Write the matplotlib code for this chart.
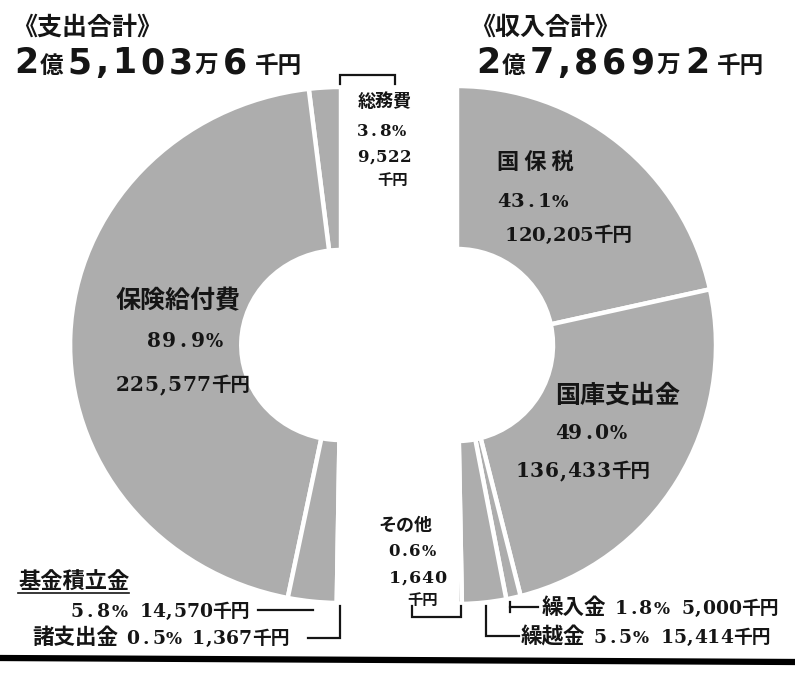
import matplotlib
matplotlib.use('Agg')
import matplotlib.pyplot as plt
from matplotlib.transforms import Affine2D

W, H = 795, 675

# 支出 (left half, counter-clockwise from the top)
exp_labels = ['総務費', '保険給付費', '基金積立金', '諸支出金']
exp_pct    = [3.8, 89.9, 5.8, 0.5]
exp_amt    = [9522, 225577, 14570, 1367]

# 収入 (right half, clockwise from the top)
inc_labels = ['国保税', '国庫支出金', '繰入金', '繰越金', 'その他']
inc_pct    = [43.1, 49.0, 1.8, 5.5, 0.6]
inc_amt    = [120205, 136433, 5000, 15414, 1640]

GRAY  = '#adadad'
INK   = '#151515'
SERIF = ['DejaVu Serif', 'Noto Sans CJK JP']
KANJI = ['Noto Sans CJK JP']
GOTH  = ['DejaVu Sans', 'Noto Sans CJK JP']


def py(y):
    return H - y


fig = plt.figure(figsize=(W / 100, H / 100), dpi=100)
fig.patch.set_facecolor('white')
ax = fig.add_axes([0, 0, 1, 1])
renderer = fig.canvas.get_renderer()

wp = dict(width=163, edgecolor='white', linewidth=3.2)
lc = (341, py(345))
left, _ = ax.pie([v / 200 for v in exp_pct], radius=258, center=lc,
                 startangle=90, counterclock=True, normalize=False,
                 colors=[GRAY] * len(exp_pct), wedgeprops=wp)
ax.pie([v / 200 for v in inc_pct], radius=259, center=(457, py(345)),
       startangle=90, counterclock=False, normalize=False,
       colors=[GRAY] * len(inc_pct), wedgeprops=wp)
ax.set_aspect('auto')
ax.set_xlim(0, W)
ax.set_ylim(0, H)
ax.axis('off')
# the left half is drawn a little wider than tall in the original
stretch = Affine2D().translate(-lc[0], -lc[1]).scale(1.05, 1).translate(*lc)
for w in left:
    w.set_transform(stretch + ax.transData)


def put(x, y, s, size, fam=KANJI, weight='bold'):
    t = ax.text(x, py(y), s, fontsize=size, family=fam, weight=weight,
                color=INK, va='baseline', ha='left')
    return t.get_window_extent(renderer).width


def num(x, y, s, size, pitch, fam=SERIF):
    # digits set in fixed cells, like the newspaper typesetting
    cur = x
    for c in s:
        if c == '%':
            cur += 1 + put(cur + 1, y, c, size * 0.9, fam)
            continue
        cell = pitch * (0.6 if c == ',' else 1.0)
        ax.text(cur + cell / 2, py(y), c, fontsize=size, family=fam,
                weight='bold', color=INK, va='baseline', ha='center')
        cur += cell
    return cur


def rich(x, y, parts, fam=SERIF):
    cur = x
    for p in parts:
        if p[0] == '_gap':
            cur += p[1]
        elif len(p) > 2:
            cur = num(cur, y, p[0], p[1], p[2], fam)
        else:
            cur += put(cur, y, p[0], p[1])
    return cur


def total_parts(amt):
    t = sum(amt)
    oku, rest = divmod(t, 100000)
    man, sen = divmod(rest, 10)
    return [(str(oku), 25, 28), ('億', 17), ('_gap', 2), (f'{man:,}', 25, 28),
            ('万', 17), ('_gap', 3), (str(sen), 25, 28), ('_gap', 6), ('千円', 17)]


# headers
put(12, 35, '《支出合計》', 18)
rich(12, 73, total_parts(exp_amt), fam=GOTH)
put(470, 35, '《収入合計》', 18)
rich(474, 73, total_parts(inc_amt), fam=GOTH)

# 総務費
put(358, 107, exp_labels[0], 13)
rich(357, 136, [(f'{exp_pct[0]}%', 12, 11.2)])
rich(357, 162, [(f'{exp_amt[0]:,}', 12, 11.8)])
put(377, 185, '千円', 11)

# 保険給付費
put(115, 308, exp_labels[1], 18)
rich(147, 347, [(f'{exp_pct[1]}%', 14.5, 14.5)])
rich(115, 391, [(f'{exp_amt[1]:,}', 14.5, 14.5), ('千円', 14)])

# 国保税
put(497, 169, ' '.join(inc_labels[0]), 16)
rich(497, 207, [(f'{inc_pct[0]}%', 14, 13.5)])
rich(505, 241, [(f'{inc_amt[0]:,}', 14, 13.3), ('千円', 14)])

# 国庫支出金
put(555, 403, inc_labels[1], 18)
rich(555, 439, [(f'{inc_pct[1]}%', 14.5, 13.5)])
rich(515, 477, [(f'{inc_amt[1]:,}', 14.5, 14.5), ('千円', 14)])

# その他
put(378, 531, inc_labels[4], 13)
rich(389, 556, [(f'{inc_pct[4]}%', 12, 10.5)])
rich(389, 583, [(f'{inc_amt[4]:,}', 12.5, 12.5)])
put(407, 605, '千円', 11)

# 基金積立金 / 諸支出金
x_end = 18 + put(18, 589, exp_labels[2], 16)
ax.plot([18, x_end], [py(593), py(593)], color=INK, lw=1.2)
rich(70, 617, [(f'{exp_pct[2]}%', 13.5, 13.5), ('_gap', 12),
               (f'{exp_amt[2]:,}', 13.5, 13), ('千円', 13.5)])
rich(32, 644, [(exp_labels[3], 15.5), ('_gap', 8), (f'{exp_pct[3]}%', 13.5, 13),
               ('_gap', 10), (f'{exp_amt[3]:,}', 13.5, 13), ('千円', 13.5)])

# 繰入金 / 繰越金
rich(542, 614, [(inc_labels[2], 15.5), ('_gap', 8), (f'{inc_pct[2]}%', 13.5, 12.6),
                ('_gap', 12), (f'{inc_amt[2]:,}', 13.5, 13), ('千円', 13.5)])
rich(521, 643, [(inc_labels[3], 15.5), ('_gap', 8), (f'{inc_pct[3]}%', 13.5, 12.6),
                ('_gap', 12), (f'{inc_amt[3]:,}', 13.5, 13), ('千円', 13.5)])

lk = dict(color=INK, lw=1.6, solid_joinstyle='miter')
# bracket 総務費
ax.plot([340, 340, 395, 395], [py(84), py(75), py(75), py(84)], **lk)
# bracket その他
ax.plot([412, 412, 461, 461], [py(606), py(617), py(617), py(606)], **lk)
# 基金積立金 leader
ax.plot([258, 313], [py(610), py(610)], **lk)
# 諸支出金 leader
ax.plot([308, 340, 340], [py(638), py(638), py(606)], **lk)
# 繰入金 leader
ax.plot([510, 510], [py(602), py(612)], **lk)
ax.plot([510, 538], [py(607), py(607)], **lk)
# 繰越金 leader
ax.plot([486, 486, 519], [py(606), py(636), py(636)], **lk)

# bottom rule
ax.plot([0, W], [py(658), py(662)], color='black', lw=4.5, solid_capstyle='butt')

fig.savefig('out.png', dpi=100, facecolor='white')
